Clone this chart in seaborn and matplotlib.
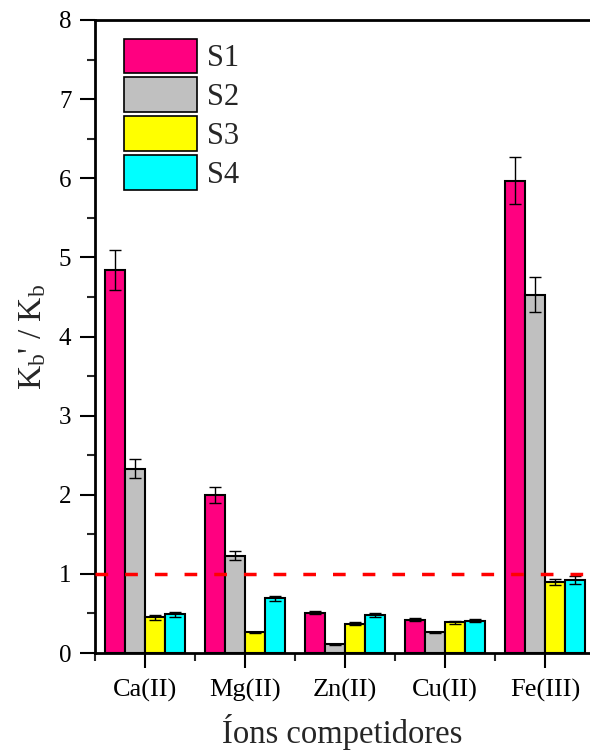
import matplotlib
matplotlib.use("Agg")
import matplotlib.pyplot as plt
import seaborn as sns
import pandas as pd
import numpy as np
from matplotlib.ticker import MultipleLocator, FixedLocator

ions = ["Ca(II)", "Mg(II)", "Zn(II)", "Cu(II)", "Fe(III)"]
series = ["S1", "S2", "S3", "S4"]
s1 = [4.84, 2.00, 0.51, 0.42, 5.97]
s2 = [2.33, 1.23, 0.11, 0.26, 4.53]
s3 = [0.45, 0.26, 0.37, 0.39, 0.90]
s4 = [0.49, 0.69, 0.48, 0.41, 0.92]
e1 = [0.25, 0.10, 0.02, 0.02, 0.30]
e2 = [0.12, 0.06, 0.005, 0.01, 0.22]
e3 = [0.03, 0.01, 0.02, 0.02, 0.04]
e4 = [0.03, 0.03, 0.02, 0.02, 0.05]
colors = ["#FF0080", "#C0C0C0", "#FFFF00", "#00FFFF"]

vals = [s1, s2, s3, s4]
errs = [e1, e2, e3, e4]
df = pd.DataFrame({
    "ion": ions * 4,
    "serie": [s for s in series for _ in ions],
    "val": [v for vs in vals for v in vs],
    "err": [v for es in errs for v in es],
})

sns.set_style("ticks")
plt.rcParams["font.family"] = ["Liberation Serif", "DejaVu Serif"]
plt.rcParams["mathtext.fontset"] = "custom"
plt.rcParams["mathtext.rm"] = "Liberation Serif"
plt.rcParams["mathtext.it"] = "Liberation Serif:italic"

fig = plt.figure(figsize=(5.9, 7.51), dpi=100)
ax = fig.add_axes([95/590, 1-653/751, 1-95/590, (653-20)/751])

sns.barplot(data=df, x="ion", y="val", hue="serie", order=ions, hue_order=series,
            palette=colors, errorbar=None, width=0.8, edgecolor="black",
            linewidth=1.5, ax=ax, saturation=1)

# error bars at bar centers
for cont, es in zip(ax.containers, errs):
    xs = [p.get_x() + p.get_width()/2 for p in cont.patches]
    hs = [p.get_height() for p in cont.patches]
    ax.errorbar(xs, hs, yerr=es, fmt="none", ecolor="black", elinewidth=1,
                capsize=4.5, capthick=1, zorder=5)

ax.axhline(1, color="#FF0000", linestyle=(0, (3.65, 4.9)), linewidth=2.5, zorder=6)

ax.set_ylim(0, 8)
ax.set_xlim(-0.5, 4.45)
ax.yaxis.set_major_locator(MultipleLocator(1))
ax.yaxis.set_minor_locator(MultipleLocator(0.5))
ax.xaxis.set_minor_locator(FixedLocator(np.arange(-0.5, 4.6, 1)))
ax.tick_params(axis="both", which="major", direction="out", length=11, width=1.5,
               colors="black")
ax.tick_params(axis="x", which="major", labelsize=19, pad=8)
ax.tick_params(axis="y", which="major", labelsize=18, pad=6)
ax.tick_params(axis="both", which="minor", direction="out", length=6, width=1.5)
for sp in ["left", "bottom", "top"]:
    ax.spines[sp].set_linewidth(2)
    ax.spines[sp].set_color("black")
ax.spines["right"].set_visible(False)

ax.set_xlabel("Íons competidores", fontsize=23.5, labelpad=8)
ax.set_ylabel(r"K$_\mathrm{b}$' / K$_\mathrm{b}$", fontsize=24, labelpad=8)

leg = ax.legend(loc="upper left", bbox_to_anchor=(0.034, 0.99), fontsize=22,
                frameon=False, handlelength=2.4, handleheight=1.35,
                handletextpad=0.3, labelspacing=0.15, borderaxespad=0)
for h in leg.legend_handles:
    h.set_linewidth(1.2)

fig.savefig("out.png", dpi=100)
